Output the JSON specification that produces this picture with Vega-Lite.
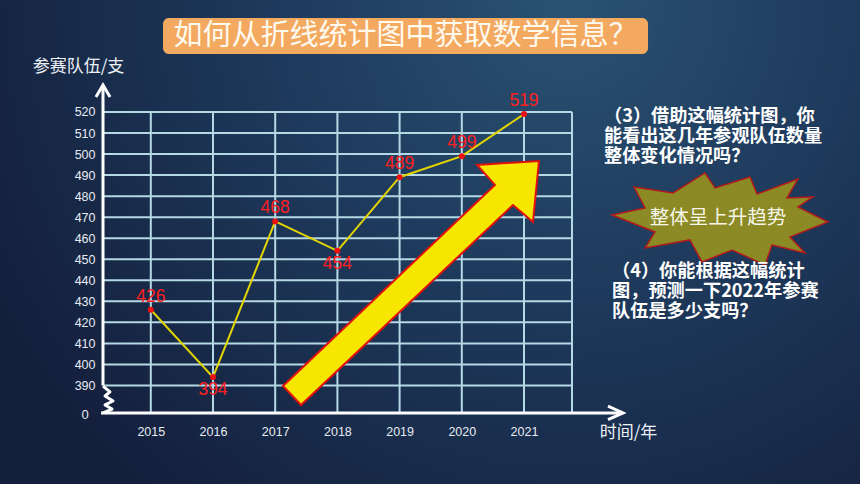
{
  "$schema": "https://vega.github.io/schema/vega-lite/v6.json",
  "width": 860,
  "height": 484,
  "autosize": {"type": "fit", "contains": "padding"},
  "padding": 0,
  "background": "#152240",
  "config": {"view": {"stroke": null}},
  "resolve": {"axis": {"x": "independent", "y": "independent"}},
  "datasets": {
    "teams": [
      {"year": 2015, "teams": 426},
      {"year": 2016, "teams": 394},
      {"year": 2017, "teams": 468},
      {"year": 2018, "teams": 454},
      {"year": 2019, "teams": 489},
      {"year": 2020, "teams": 499},
      {"year": 2021, "teams": 519}
    ],
    "yticks": [
      {"v": 390}, {"v": 400}, {"v": 410}, {"v": 420}, {"v": 430}, {"v": 440}, {"v": 450},
      {"v": 460}, {"v": 470}, {"v": 480}, {"v": 490}, {"v": 500}, {"v": 510}, {"v": 520}
    ],
    "one": [{}]
  },
  "data": {"name": "teams"},
  "layer": [
    {
      "data": {"name": "one"},
      "mark": {"type": "rect", "fill": {"gradient": "radial", "x1": 0.66, "y1": 0.22, "r1": 0, "x2": 0.66, "y2": 0.22, "r2": 0.75,
        "stops": [{"offset": 0, "color": "#2a5272"}, {"offset": 0.45, "color": "#1e3a5c"}, {"offset": 1, "color": "#141f3c"}]}},
      "encoding": {
        "x": {"datum": 2012.5756, "type": "quantitative", "scale": {"domain": [2012.5756, 2026.4019], "nice": false, "zero": false}, "axis": null},
        "x2": {"datum": 2026.4019},
        "y": {"datum": 343.18, "type": "quantitative", "scale": {"domain": [343.18, 573.22], "nice": false, "zero": false}, "axis": null},
        "y2": {"datum": 573.22}
      }
    },
    {
      "data": {"name": "one"},
      "mark": {"type": "rect", "fill": "#f3a95f", "cornerRadius": 6},
      "encoding": {
        "x": {"datum": 2015.196, "type": "quantitative", "axis": null},
        "x2": {"datum": 2022.994},
        "y": {"datum": 564.67, "type": "quantitative", "axis": null},
        "y2": {"datum": 547.56}
      }
    },
    {
      "data": {"name": "one"},
      "mark": {"type": "text", "font": "Noto Sans CJK SC", "fontSize": 29, "fill": "#fffaf0", "align": "center", "baseline": "middle", "text": "如何从折线统计图中获取数学信息？"},
      "encoding": {
        "x": {"datum": 2019.095, "type": "quantitative", "axis": null},
        "y": {"datum": 556.11, "type": "quantitative", "axis": null}
      }
    },
    {
      "data": {"name": "yticks"},
      "mark": {"type": "rule", "stroke": "#b5d9e4", "strokeWidth": 2},
      "encoding": {
        "x": {"datum": 2014.2315, "type": "quantitative", "axis": null},
        "x2": {"datum": 2021.7717},
        "y": {"field": "v", "type": "quantitative", "axis": null}
      }
    },
    {
      "data": {"name": "teams"},
      "mark": {"type": "rule", "stroke": "#b5d9e4", "strokeWidth": 2},
      "encoding": {
        "x": {"field": "year", "type": "quantitative", "axis": null},
        "y": {"datum": 376.93, "type": "quantitative", "axis": null},
        "y2": {"datum": 520}
      }
    },
    {
      "data": {"name": "one"},
      "mark": {"type": "rule", "stroke": "#b5d9e4", "strokeWidth": 2},
      "encoding": {
        "x": {"datum": 2021.7717, "type": "quantitative", "axis": null},
        "y": {"datum": 376.93, "type": "quantitative", "axis": null},
        "y2": {"datum": 520}
      }
    },
    {
      "data": {"name": "one"},
      "mark": {"type": "rule", "stroke": "#ffffff", "strokeWidth": 3},
      "encoding": {
        "x": {"datum": 2014.2315, "type": "quantitative", "axis": null},
        "y": {"datum": 390, "type": "quantitative", "axis": null},
        "y2": {"datum": 532.82}
      }
    },
    {
      "data": {"name": "one"},
      "mark": {"type": "rule", "stroke": "#ffffff", "strokeWidth": 3},
      "encoding": {
        "x": {"datum": 2014.2, "type": "quantitative", "axis": null},
        "x2": {"datum": 2022.5916},
        "y": {"datum": 376.93, "type": "quantitative", "axis": null}
      }
    },
    {
      "data": {"name": "one"},
      "mark": {"type": "point", "shape": "M-0.36,-0.96L0.14,-0.54L-0.21,-0.25L0.36,0.11L-0.21,0.39L0.29,0.68L-0.36,0.96", "size": 784, "filled": false, "stroke": "#ffffff", "strokeWidth": 3, "opacity": 1, "strokeJoin": "round"},
      "encoding": {
        "x": {"datum": 2014.312, "type": "quantitative", "axis": null},
        "y": {"datum": 383.35, "type": "quantitative", "axis": null}
      }
    },
    {
      "data": {"name": "one"},
      "mark": {"type": "point", "shape": "M-0.47,0.8L0,0L0.47,0.8", "size": 900, "filled": false, "stroke": "#ffffff", "strokeWidth": 3, "opacity": 1},
      "encoding": {
        "x": {"datum": 2014.2315, "type": "quantitative", "axis": null},
        "y": {"datum": 532.82, "type": "quantitative", "axis": null}
      }
    },
    {
      "data": {"name": "one"},
      "mark": {"type": "point", "shape": "M-1,-0.45L0,0L-1,0.45", "size": 900, "filled": false, "stroke": "#ffffff", "strokeWidth": 3, "opacity": 1},
      "encoding": {
        "x": {"datum": 2022.5916, "type": "quantitative", "axis": null},
        "y": {"datum": 376.93, "type": "quantitative", "axis": null}
      }
    },
    {
      "data": {"name": "one"},
      "mark": {"type": "point", "shape": "M-1,0.805L0.656,-0.766L0.516,-0.922L1,-0.953L0.953,-0.477L0.797,-0.609L-0.859,0.953Z", "size": 65536, "filled": true, "fill": "#f7e600", "stroke": "#e01010", "strokeWidth": 2, "opacity": 1},
      "encoding": {
        "x": {"datum": 2019.183, "type": "quantitative", "axis": null},
        "y": {"datum": 438.72, "type": "quantitative", "axis": null}
      }
    },
    {
      "data": {"name": "teams"},
      "mark": {"type": "line", "stroke": "#e2d400", "strokeWidth": 2},
      "encoding": {
        "x": {"field": "year", "type": "quantitative",
          "axis": {"zindex": 2, "values": [2015, 2016, 2017, 2018, 2019, 2020, 2021], "format": "d", "offset": -71, "domain": false, "ticks": false, "grid": false,
            "labelColor": "#e6ecf2", "labelFont": "Liberation Sans", "labelFontSize": 12.5, "labelPadding": 12,
            "title": "时间/年", "titleX": 628, "titleY": 19, "titleAngle": 0, "titleAlign": "center", "titleBaseline": "middle",
            "titleFont": "Noto Sans CJK SC", "titleFontSize": 17, "titleFontWeight": "normal", "titleColor": "#eef2f6"}},
        "y": {"field": "teams", "type": "quantitative",
          "axis": {"zindex": 2, "values": [390, 400, 410, 420, 430, 440, 450, 460, 470, 480, 490, 500, 510, 520], "offset": -103, "domain": false, "ticks": false, "grid": false,
            "labelColor": "#e6ecf2", "labelFont": "Liberation Sans", "labelFontSize": 12.5, "labelPadding": 8,
            "title": "参赛队伍/支", "titleX": -25, "titleY": 66, "titleAngle": 0, "titleAlign": "center", "titleBaseline": "middle",
            "titleFont": "Noto Sans CJK SC", "titleFontSize": 17, "titleFontWeight": "normal", "titleColor": "#eef2f6"}}
      }
    },
    {
      "data": {"name": "teams"},
      "mark": {"type": "circle", "fill": "#ee1111", "size": 36, "opacity": 1},
      "encoding": {
        "x": {"field": "year", "type": "quantitative", "axis": null},
        "y": {"field": "teams", "type": "quantitative", "axis": null}
      }
    },
    {
      "data": {"name": "teams"},
      "transform": [{"filter": "datum.year != 2016 && datum.year != 2018"}],
      "mark": {"type": "text", "fill": "#ff2020", "font": "Liberation Sans", "fontSize": 17.5, "baseline": "middle", "align": "center", "dy": -13},
      "encoding": {
        "x": {"field": "year", "type": "quantitative", "axis": null},
        "y": {"field": "teams", "type": "quantitative", "axis": null},
        "text": {"field": "teams", "type": "quantitative"}
      }
    },
    {
      "data": {"name": "teams"},
      "transform": [{"filter": "datum.year == 2016 || datum.year == 2018"}],
      "mark": {"type": "text", "fill": "#ff2020", "font": "Liberation Sans", "fontSize": 17.5, "baseline": "middle", "align": "center", "dy": 13},
      "encoding": {
        "x": {"field": "year", "type": "quantitative", "axis": null},
        "y": {"field": "teams", "type": "quantitative", "axis": null},
        "text": {"field": "teams", "type": "quantitative"}
      }
    },
    {
      "data": {"name": "one"},
      "mark": {"type": "text", "fill": "#e6ecf2", "font": "Liberation Sans", "fontSize": 13, "baseline": "middle", "align": "center", "text": "0"},
      "encoding": {
        "x": {"datum": 2013.942, "type": "quantitative", "axis": null},
        "y": {"datum": 375.98, "type": "quantitative", "axis": null}
      }
    },
    {
      "data": {"name": "one"},
      "mark": {"type": "text", "fill": "#ffffff", "font": "Noto Sans CJK SC", "fontSize": 18.2, "fontWeight": "bold", "baseline": "top", "align": "left", "lineHeight": 20,
        "text": ["（3）借助这幅统计图，你", "能看出这几年参观队伍数量", "整体变化情况吗？"]},
      "encoding": {
        "x": {"datum": 2022.286, "type": "quantitative", "axis": null},
        "y": {"datum": 521.89, "type": "quantitative", "axis": null}
      }
    },
    {
      "data": {"name": "one"},
      "mark": {"type": "point", "shape": "M-1,-0.037L-0.694,-0.102L-0.796,-0.296L-0.435,-0.241L-0.139,-0.426L-0.046,-0.287L0.278,-0.389L0.343,-0.231L0.722,-0.37L0.62,-0.194L0.861,-0.204L0.722,-0.111L1,0.028L0.648,0.167L0.787,0.315L0.481,0.241L0.417,0.426L0.111,0.287L-0.167,0.398L-0.278,0.194L-0.694,0.269L-0.602,0.12Z",
        "size": 46656, "filled": true, "fill": "#8c8a25", "stroke": "#b01c1c", "strokeWidth": 1.5, "opacity": 1},
      "encoding": {
        "x": {"datum": 2024.151, "type": "quantitative", "axis": null},
        "y": {"datum": 469.14, "type": "quantitative", "axis": null}
      }
    },
    {
      "data": {"name": "one"},
      "mark": {"type": "text", "fill": "#f6f6ea", "font": "Noto Sans CJK SC", "fontSize": 19.5, "baseline": "middle", "align": "center", "text": "整体呈上升趋势"},
      "encoding": {
        "x": {"datum": 2024.119, "type": "quantitative", "axis": null},
        "y": {"datum": 469.61, "type": "quantitative", "axis": null}
      }
    },
    {
      "data": {"name": "one"},
      "mark": {"type": "text", "fill": "#ffffff", "font": "Noto Sans CJK SC", "fontSize": 18.2, "fontWeight": "bold", "baseline": "top", "align": "left", "lineHeight": 20,
        "text": ["（4）你能根据这幅统计", "图，预测一下2022年参赛", "队伍是多少支吗？"]},
      "encoding": {
        "x": {"datum": 2022.415, "type": "quantitative", "axis": null},
        "y": {"datum": 448.2, "type": "quantitative", "axis": null}
      }
    }
  ]
}
